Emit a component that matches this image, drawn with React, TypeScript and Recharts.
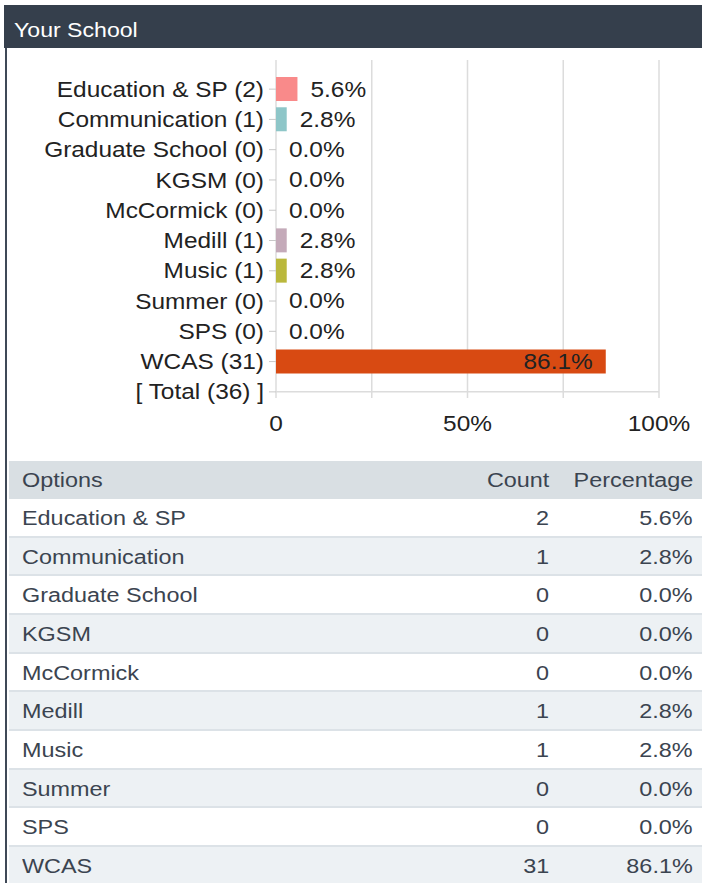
import React from "react";
import {
  Bar,
  BarChart,
  CartesianGrid,
  Cell,
  LabelList,
  ReferenceLine,
  XAxis,
  YAxis,
} from "recharts";

const categories = [
  "Education & SP",
  "Communication",
  "Graduate School",
  "KGSM",
  "McCormick",
  "Medill",
  "Music",
  "Summer",
  "SPS",
  "WCAS",
];
const counts = [2, 1, 0, 0, 0, 1, 1, 0, 0, 31];
const percents = [5.6, 2.8, 0.0, 0.0, 0.0, 2.8, 2.8, 0.0, 0.0, 86.1];
const totalCount = 36;
const barColors = [
  "#f98a8a",
  "#8ec6c8",
  "#cccccc",
  "#cccccc",
  "#cccccc",
  "#c4aab9",
  "#bab83c",
  "#cccccc",
  "#cccccc",
  "#d84a12",
];
const xTicks = [0, 25, 50, 75, 100];
const xTickLabels = ["0", "", "50%", "", "100%"];
const tableHeaders = ["Options", "Count", "Percentage"];

const totalLabel = `[ Total (${totalCount}) ]`;

const chartData = [
  ...categories.map((name, i) => ({
    label: `${name} (${counts[i]})`,
    pct: percents[i],
  })),
  { label: totalLabel, pct: null },
];

const FONT = "'Liberation Sans', Arial, Helvetica, sans-serif";
const CHART_SX = 1.11;
const TABLE_SX = 1.17;
const INK = "#222222";
const TABLE_INK = "#3b4450";

function YTick({ x, y, payload }: any) {
  return (
    <text
      transform={`translate(${x},${y}) scale(${CHART_SX},1)`}
      textAnchor="end"
      dominantBaseline="central"
      fontSize={22}
      fontFamily={FONT}
      fill={INK}
    >
      {payload.value}
    </text>
  );
}

function XTick({ x, y, payload }: any) {
  const label = xTickLabels[xTicks.indexOf(payload.value)];
  if (!label) return null;
  return (
    <text
      transform={`translate(${x},${y}) scale(${CHART_SX},1)`}
      textAnchor="middle"
      dy="0.71em"
      fontSize={22}
      fontFamily={FONT}
      fill={INK}
    >
      {label}
    </text>
  );
}

function BarValue({ x, y, width, height, value }: any) {
  if (value === null || value === undefined) return null;
  const inside = value > 50;
  // zero bars are drawn 1px wide (minPointSize), keep label off the real value
  const end = value === 0 ? x : x + width;
  const tx = inside ? end - 13 : end + 13;
  return (
    <text
      transform={`translate(${tx},${y + height / 2}) scale(${CHART_SX},1)`}
      textAnchor={inside ? "end" : "start"}
      dominantBaseline="central"
      fontSize={22}
      fontFamily={FONT}
      fill={INK}
    >
      {value.toFixed(1)}%
    </text>
  );
}

function Stretch({
  children,
  origin,
  sx = TABLE_SX,
}: {
  children: React.ReactNode;
  origin: string;
  sx?: number;
}) {
  return (
    <span
      style={{
        display: "inline-block",
        transform: `scaleX(${sx})`,
        transformOrigin: origin,
        whiteSpace: "nowrap",
      }}
    >
      {children}
    </span>
  );
}

function TableRow({
  cells,
  top,
  height,
  background,
  border,
}: {
  cells: string[];
  top: number;
  height: number;
  background: string;
  border: boolean;
}) {
  const textTop = {
    position: "absolute" as const,
    top: 0,
    lineHeight: `${height}px`,
  };
  return (
    <div
      style={{
        position: "absolute",
        left: 9,
        top,
        width: 693,
        height,
        background,
        boxSizing: "border-box",
        borderBottom: border ? "2px solid #dce2e7" : "none",
        fontSize: 20,
        color: TABLE_INK,
      }}
    >
      <div style={{ ...textTop, left: 13 }}>
        <Stretch origin="left center">{cells[0]}</Stretch>
      </div>
      <div style={{ ...textTop, right: 153 }}>
        <Stretch origin="right center">{cells[1]}</Stretch>
      </div>
      <div style={{ ...textTop, right: 9 }}>
        <Stretch origin="right center">{cells[2]}</Stretch>
      </div>
    </div>
  );
}

export default function App() {
  const rowH = 38.67;
  return (
    <div
      style={{
        position: "absolute",
        left: 0,
        top: 0,
        width: 702,
        height: 883,
        overflow: "hidden",
        background: "#ffffff",
        fontFamily: FONT,
      }}
    >
      <div
        style={{
          position: "absolute",
          left: 4,
          top: 5,
          width: 698,
          height: 43,
          background: "#353f4c",
          color: "#ffffff",
          fontSize: 21,
          lineHeight: "50px",
          paddingLeft: 10,
          boxSizing: "border-box",
        }}
      >
        <Stretch origin="left center" sx={1.1}>
          Your School
        </Stretch>
      </div>

      <div style={{ position: "absolute", left: 0, top: 0 }}>
        <BarChart
          width={702}
          height={445}
          data={chartData}
          layout="vertical"
          margin={{ top: 60, right: 43, left: 0, bottom: 8 }}
        >
          <CartesianGrid
            horizontal={false}
            stroke="#dcdcdc"
            strokeWidth={1.5}
            y={60}
            height={338}
          />
          <XAxis
            type="number"
            domain={[0, 100]}
            ticks={xTicks}
            interval={0}
            tick={<XTick />}
            axisLine={false}
            tickLine={false}
            height={30}
          />
          <YAxis
            type="category"
            dataKey="label"
            width={276}
            interval={0}
            tick={<YTick />}
            tickSize={7}
            tickMargin={5}
            tickLine={{ stroke: "#c8c8c8" }}
            axisLine={false}
            padding={{ top: 14, bottom: 0 }}
          />
          <ReferenceLine y={totalLabel} stroke="#dcdcdc" strokeWidth={1.5} />
          <Bar
            dataKey="pct"
            barSize={24}
            minPointSize={1}
            isAnimationActive={false}
          >
            {chartData.map((d, i) => (
              <Cell
                key={i}
                fill={d.pct ? barColors[i] : "transparent"}
              />
            ))}
            <LabelList dataKey="pct" content={<BarValue />} />
          </Bar>
        </BarChart>
      </div>

      <TableRow
        cells={tableHeaders}
        top={461}
        height={38}
        background="#d9dfe3"
        border={false}
      />
      {categories.map((name, i) => (
        <TableRow
          key={name}
          cells={[name, String(counts[i]), `${percents[i].toFixed(1)}%`]}
          top={499 + i * rowH}
          height={rowH}
          background={i % 2 === 0 ? "#ffffff" : "#edf1f4"}
          border={i < categories.length - 1}
        />
      ))}

      <div
        style={{
          position: "absolute",
          left: 5,
          top: 48,
          width: 2,
          height: 835,
          background: "#3f4957",
        }}
      />
    </div>
  );
}
